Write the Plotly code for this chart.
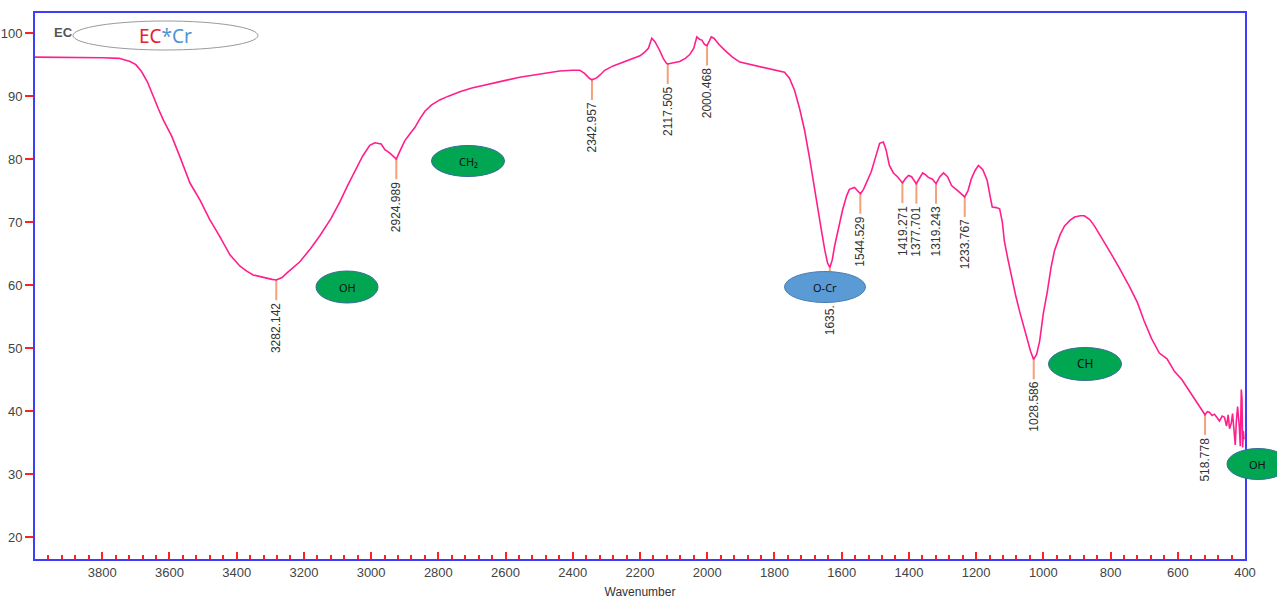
import numpy as np
import plotly.graph_objects as go

# ---------------- data ----------------
wavenumber = [
    4000, 3900, 3800, 3750, 3717, 3700, 3683, 3665, 3648, 3633,
    3618, 3593, 3569, 3539, 3509, 3480, 3450, 3420, 3390, 3370,
    3351, 3330, 3311, 3295, 3282, 3265, 3251, 3235, 3212, 3180,
    3153, 3120, 3093, 3070, 3048, 3025, 3004, 2989, 2970, 2959,
    2945, 2929, 2925, 2915, 2900, 2885, 2870, 2855, 2840, 2820,
    2796, 2770, 2736, 2700, 2647, 2600, 2558, 2500, 2439, 2400,
    2379, 2365, 2350, 2343, 2329, 2318, 2305, 2280, 2260, 2240,
    2216, 2200, 2186, 2175, 2165, 2155, 2142, 2130, 2121, 2117,
    2100, 2082, 2065, 2052, 2040, 2031, 2022, 2016, 2008, 2001,
    1995, 1988, 1980, 1965, 1948, 1925, 1903, 1860, 1814, 1790,
    1770, 1755, 1740, 1725, 1710, 1695, 1681, 1670, 1660, 1650,
    1642, 1635, 1628, 1621, 1610, 1597, 1585, 1577, 1562, 1553,
    1544, 1535, 1523, 1512, 1502, 1495, 1487, 1476, 1468, 1458,
    1446, 1434, 1425, 1419, 1410, 1401, 1392, 1378, 1368, 1359,
    1350, 1342, 1330, 1319, 1308, 1297, 1285, 1273, 1255, 1234,
    1224, 1214, 1203, 1193, 1180, 1167, 1158, 1152, 1140, 1130,
    1122, 1116, 1105, 1095, 1083, 1071, 1058, 1047, 1038, 1029,
    1020, 1011, 1000, 988, 977, 967, 950, 937, 920, 907,
    890, 878, 862, 848, 825, 803, 775, 744, 720, 700,
    678, 655, 632, 610, 588, 565, 548, 536, 526, 519,
    512, 506, 498, 491, 484, 476, 468, 461, 455, 450,
    446, 441, 437, 433, 429, 426, 422, 417, 414, 411,
    409, 407, 405, 403,
]
transmittance = [
    96.2, 96.2, 96.1, 96.0, 95.5, 95.0, 93.9, 92.2, 89.9, 88.0,
    86.2, 83.6, 80.4, 76.2, 73.5, 70.4, 67.7, 64.8, 63.0, 62.2,
    61.6, 61.3, 61.1, 60.9, 60.8, 61.2, 61.9, 62.7, 63.7, 65.8,
    67.8, 70.5, 73.2, 75.8, 78.2, 80.5, 82.2, 82.6, 82.4, 81.5,
    81.0, 80.2, 80.0, 81.2, 82.9, 84.0, 85.0, 86.4, 87.6, 88.6,
    89.4, 90.0, 90.7, 91.3, 92.0, 92.5, 93.0, 93.5, 94.0, 94.1,
    94.1, 93.6, 92.8, 92.6, 92.9, 93.4, 94.1, 94.8, 95.2, 95.7,
    96.2, 96.4, 97.0, 97.6, 99.2, 98.6, 97.3, 95.9, 95.2, 95.1,
    95.3, 95.5, 96.0, 96.6, 97.6, 99.4, 99.0, 98.9, 98.2, 98.0,
    98.6, 99.4, 99.2, 98.2, 97.3, 96.2, 95.4, 94.9, 94.4, 94.1,
    93.8, 92.8, 90.9, 88.0, 84.5, 80.0, 75.2, 71.8, 68.6, 65.5,
    63.5, 62.8, 64.0, 66.2, 69.0, 72.0, 74.2, 75.2, 75.5, 75.0,
    74.5, 75.2, 76.8, 78.0, 79.8, 81.0, 82.5, 82.7, 81.5, 79.0,
    77.8, 77.2, 76.6, 76.2, 76.9, 77.4, 77.2, 76.1, 77.0, 77.8,
    77.5, 77.1, 76.8, 76.1, 77.2, 77.8, 77.2, 75.8, 75.0, 74.0,
    75.0, 76.9, 78.2, 79.0, 78.3, 76.6, 74.0, 72.4, 72.3, 72.1,
    70.0, 67.0, 64.0, 61.4, 58.5, 55.9, 53.4, 51.1, 49.5, 48.2,
    49.0, 51.1, 55.5, 59.0, 62.8, 65.4, 68.0, 69.4, 70.3, 70.8,
    71.0, 71.0, 70.4, 69.4, 67.4, 65.4, 62.8, 59.8, 57.2, 54.3,
    51.5, 49.2, 48.3, 46.3, 45.0, 43.1, 41.6, 40.7, 39.8, 39.4,
    39.9, 39.8, 39.3, 39.5, 39.0, 38.4, 39.2, 39.0, 37.6, 39.4,
    37.2, 38.0, 39.6, 37.0, 34.6, 38.2, 40.7, 37.5, 34.4, 43.4,
    42.0, 34.2, 36.8, 35.5,
]

peak_wn = [3282.142, 2924.989, 2342.957, 2117.505, 2000.468, 1635.4, 1544.529,
           1419.271, 1377.701, 1319.243, 1233.767, 1028.586, 518.778]
peak_labels = ["3282.142", "2924.989", "2342.957", "2117.505", "2000.468", "1635.",
               "1544.529", "1419.271", "1377.701", "1319.243", "1233.767", "1028.586",
               "518.778"]

x_ticks = list(range(3800, 399, -200))
y_ticks = list(range(20, 101, 10))
x_range = [4000, 400]
y_range = [16.5, 103.2]

# ---------------- layout geometry (pixels) ----------------
W, H = 1277, 599
PL, PR, PT, PB = 35, 1245, 13, 559


def pxx(x):
    return (x - PL) / (PR - PL)


def pxy(y):
    return (PB - y) / (PB - PT)


fig = go.Figure()
fig.add_trace(go.Scatter(
    x=wavenumber, y=transmittance, mode="lines",
    line=dict(color="#FF1F8C", width=1.6), hoverinfo="skip", showlegend=False))

wn_asc = np.array(wavenumber[::-1], dtype=float)
t_asc = np.array(transmittance[::-1], dtype=float)
peak_y = np.interp(peak_wn, wn_asc, t_asc)

# O-Cr ellipse (pixels): the 1635 label is partly hidden behind it
OCR = (825, 287, 81, 31)

shapes = []
annotations = []
for wn, yv, lab in zip(peak_wn, peak_y, peak_labels):
    shapes.append(dict(type="line", xref="x", yref="y", x0=wn, x1=wn,
                       y0=yv, y1=yv - 3.2, line=dict(color="#F4A07A", width=2),
                       layer="below"))
    ann = dict(x=wn, y=yv - 3.3, xref="x", yref="y", text=lab,
               textangle=-90, showarrow=False, xanchor="center", yanchor="top",
               font=dict(family="Liberation Sans, Arial", size=12, color="#333333"))
    if lab.endswith("."):
        ann.update(y=pxy(OCR[1] + OCR[3] / 2 + 1), yref="paper")
    annotations.append(ann)

# ellipse labels: (cx, cy, w, h, fill, border, text, font size)
ellipses = [
    (347, 287, 62, 32, "#00A651", "#3A6B9A", "OH", 11),
    (468, 161, 73, 31, "#00A651", "#3A6B9A", "CH\u2082", 11),
    (OCR[0], OCR[1], OCR[2], OCR[3], "#5B9BD5", "#4A7EB0", "O-Cr", 11),
    (1085, 364, 73, 33, "#00A651", "#3A6B9A", "CH", 12),
    (1258, 464, 62, 31, "#00A651", "#3A6B9A", "OH", 11),
]
for cx, cy, w, h, fill, border, txt, fs in ellipses:
    shapes.append(dict(type="circle", xref="paper", yref="paper",
                       x0=pxx(cx - w / 2), x1=pxx(cx + w / 2),
                       y0=pxy(cy + h / 2), y1=pxy(cy - h / 2),
                       fillcolor=fill, line=dict(color=border, width=1), layer="above"))
    annotations.append(dict(x=pxx(cx), y=pxy(cy), xref="paper", yref="paper",
                            text=txt, showarrow=False, xanchor="center", yanchor="middle",
                            font=dict(family="Noto Sans, Liberation Sans", size=fs,
                                      color="#111111")))

# legend label and title ellipse
annotations.append(dict(x=pxx(52), y=pxy(33), xref="paper", yref="paper", text="<b>EC</b>",
                        showarrow=False, xanchor="left", yanchor="middle",
                        font=dict(family="Liberation Sans, Arial", size=13, color="#555555")))
shapes.append(dict(type="circle", xref="paper", yref="paper",
                   x0=pxx(73), x1=pxx(258), y0=pxy(50), y1=pxy(21),
                   fillcolor="white", line=dict(color="#9A9A9A", width=1), layer="above"))
annotations.append(dict(x=pxx(165), y=pxy(36), xref="paper", yref="paper",
                        text="<span style='color:#E8202A'>EC</span>"
                             "<span style='color:#4F94D4'>*Cr</span>",
                        showarrow=False, xanchor="center", yanchor="middle",
                        font=dict(family="Noto Sans, Liberation Sans", size=19)))

axis_blue = "#3D3DFF"
fig.update_layout(
    width=W, height=H,
    margin=dict(l=PL, r=W - PR, t=PT, b=H - PB, autoexpand=False),
    paper_bgcolor="white", plot_bgcolor="white",
    showlegend=False,
    shapes=shapes, annotations=annotations,
    xaxis=dict(range=x_range, tickvals=x_ticks, ticktext=[str(v) for v in x_ticks],
               automargin=False,
               showgrid=False, zeroline=False, showline=True, linecolor=axis_blue,
               linewidth=2, mirror=True, ticks="inside", ticklen=7, tickwidth=1.5,
               tickcolor="#FF2020",
               minor=dict(dtick=40, tick0=0, ticks="inside", ticklen=4, tickwidth=1.5,
                          tickcolor="#FF2020", showgrid=False),
               tickfont=dict(family="Liberation Sans, Arial", size=13, color="#444444"),
               title=dict(text="Wavenumber", standoff=12,
                          font=dict(family="Liberation Sans, Arial", size=12,
                                    color="#333333"))),
    yaxis=dict(range=y_range, tickvals=y_ticks, showgrid=False, zeroline=False,
               automargin=False,
               showline=True, linecolor=axis_blue, linewidth=2, mirror=True,
               ticks="outside", ticklen=8, tickwidth=1.5, tickcolor="#FF2020",
               tickfont=dict(family="Liberation Sans, Arial", size=13, color="#444444")),
)

fig.write_html("out.html",
               config={"displayModeBar": False},
               post_script="document.body.style.margin='0';"
                           "document.body.style.padding='0';")
